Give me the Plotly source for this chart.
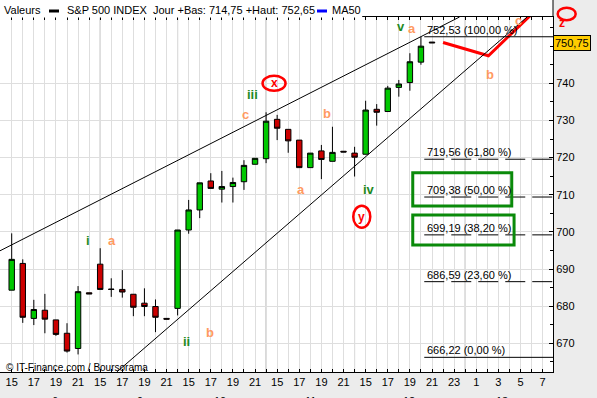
import plotly.graph_objects as go

# ---------------- data ----------------
slots = list(range(39))
opens = [684.3, 691.5, 676.7, 678.9, 676.3, 672.7, 668.6, 683.6,
         691.3, 684.6, 684.5, 683.2, 680.8, 679.9, 676.7, 679.4,
         700.5, 705.9, 713.7, 711.5, 712.2, 713.5, 718.2, 719.7,
         730.3, 727.6, 724.7, 717.3, 721.8, 719.0, 721.7, 721.2,
         720.9, 733.0, 732.4, 738.9, 740.2, 745.7, 751.1]
highs = [699.6, 692.6, 681.7, 683.3, 676.3, 675.4, 685.4, 683.6,
         695.6, 687.5, 689.7, 683.2, 684.8, 681.8, 676.7, 700.5,
         708.6, 713.2, 715.8, 716.4, 714.6, 719.3, 719.8, 732.2,
         731.5, 727.6, 724.7, 721.2, 723.4, 728.3, 721.7, 722.9,
         735.3, 734.4, 739.3, 740.9, 748.1, 752.5, 751.1]
lows = [684.3, 675.5, 674.9, 672.7, 672.0, 667.5, 667.0, 683.3,
        684.5, 682.5, 682.3, 677.3, 677.3, 673.0, 676.5, 677.5,
        699.5, 703.7, 711.7, 707.9, 707.9, 711.3, 718.2, 718.5,
        724.7, 721.3, 717.3, 717.3, 714.2, 719.0, 721.5, 714.9,
        720.9, 728.6, 732.4, 736.4, 738.0, 745.0, 750.9]
closes = [692.6, 677.0, 679.1, 676.5, 672.4, 667.9, 683.9, 683.3,
          684.5, 684.5, 683.8, 679.7, 679.9, 677.0, 676.5, 700.5,
          705.9, 713.2, 711.7, 712.2, 713.3, 717.9, 719.8, 729.8,
          727.9, 724.5, 717.3, 721.2, 719.5, 721.4, 721.5, 720.1,
          732.8, 732.2, 738.7, 739.8, 745.8, 750.0, 750.9]

hour_labels = (["15", "", "17", "", "19", "", "21", ""] * 4 +
               ["15", "", "17", "", "19", "", "21", "", "23", "", "1", "", "3", "", "5", "", "7"])
day_labels = ["6", "9", "10", "11", "12", "13"]
day_label_slots = [3.9, 11.6, 18.8, 27.0, 35.9, 44.3]
session_lines = [8, 15, 23, 31, 41]
y_ticks = [670, 680, 690, 700, 710, 720, 730, 740]

fib_values = [752.53, 719.56, 709.38, 699.19, 686.59, 666.22]
fib_pcts = ["100,00 %", "61,80 %", "50,00 %", "38,20 %", "23,60 %", "0,00 %"]
fib_solid = [True, False, False, False, False, True]

last_price = 750.75

# channel lines (slot, value)
upper_channel = [(-1.06, 694.9), (40.49, 757.85)]
lower_channel = [(9.5, 662.27), (46.6, 757.85)]
# projected path
proj_x = [39.0, 43.1, 47.95]
proj_y = [751.0, 747.4, 761.3]

green_waves = [("i", 6.9, 697.8), ("ii", 15.76, 670.4), ("iii", 21.73, 736.9),
               ("iv", 32.3, 711.3), ("v", 35.17, 755.2)]
orange_waves = [("a", 9.08, 697.8), ("b", 17.93, 672.8), ("c", 21.18, 731.5),
                ("b", 28.51, 732.0), ("a", 26.16, 711.5), ("a", 36.17, 754.8),
                ("b", 43.25, 742.5)]
circles = [("x", 23.72, 740.0, 1.04, 2.02), ("y", 31.65, 704.1, 0.77, 2.96)]
boxes = [(36.26, 45.21, 706.96, 715.93), (36.26, 45.42, 696.46, 704.54)]

XMIN, XMAX = -1.058, 48.94
YMIN, YMAX = 662.27, 757.85

GREEN_T = "#1f8a1f"
ORANGE_T = "#ff9a62"
FONT = "Arial, Liberation Sans, sans-serif"

fig = go.Figure()
fig.add_trace(go.Candlestick(
    x=slots, open=opens, high=highs, low=lows, close=closes,
    increasing=dict(fillcolor="#00c800", line=dict(color="black", width=1)),
    decreasing=dict(fillcolor="#cc0000", line=dict(color="black", width=1)),
    whiskerwidth=0, showlegend=False, hoverinfo="skip"))

fig.add_trace(go.Scatter(x=proj_x, y=proj_y, mode="lines",
                         line=dict(color="#ff0000", width=3),
                         showlegend=False, hoverinfo="skip"))

shapes = []
# header white band
shapes.append(dict(type="rect", xref="paper", yref="paper", x0=0, x1=1, y0=1, y1=1.06,
                   fillcolor="white", line=dict(width=0), layer="below"))
for s in session_lines:
    shapes.append(dict(type="line", xref="x", yref="paper", x0=s, x1=s, y0=0, y1=1,
                       line=dict(color="#a4a4a4", width=1), layer="between"))
for v, solid in zip(fib_values, fib_solid):
    shapes.append(dict(type="line", xref="x", yref="y", x0=37.3, x1=XMAX, y0=v, y1=v,
                       line=dict(color="black", width=1, dash=None if solid else "20px,7px"),
                       layer="above"))
for (a, b) in [upper_channel, lower_channel]:
    shapes.append(dict(type="line", xref="x", yref="y", x0=a[0], y0=a[1], x1=b[0], y1=b[1],
                       line=dict(color="black", width=1), layer="above"))
for (x0, x1, y0, y1) in boxes:
    shapes.append(dict(type="rect", xref="x", yref="y", x0=x0, x1=x1, y0=y0, y1=y1,
                       line=dict(color="#0a8a0a", width=3), layer="above"))
for (t, cx, cy, rx, ry) in circles:
    shapes.append(dict(type="circle", xref="x", yref="y", x0=cx - rx, x1=cx + rx,
                       y0=cy - ry, y1=cy + ry, line=dict(color="#ff0000", width=2.5), layer="above"))
# z circle (outside plot)
shapes.append(dict(type="circle", xref="paper", yref="paper", x0=1.0085, x1=1.041,
                   y0=0.991, y1=1.026, line=dict(color="#ff0000", width=2.5), layer="above"))
# hide top border line under header text
shapes.append(dict(type="rect", xref="paper", yref="paper", x0=-0.01, x1=0.655,
                   y0=1 - 0.6 / 355, y1=1.06, fillcolor="white", line=dict(width=0), layer="above"))
# right axis line extension to top
shapes.append(dict(type="line", xref="paper", yref="paper", x0=1, x1=1, y0=1, y1=1.06,
                   line=dict(color="black", width=1), layer="above"))
# header legend bars
shapes.append(dict(type="rect", xref="paper", yref="paper", x0=49 / 553, x1=59 / 553,
                   y0=(372 - 12.5) / 355, y1=(372 - 9.5) / 355, fillcolor="black",
                   line=dict(width=0), layer="above"))
shapes.append(dict(type="rect", xref="paper", yref="paper", x0=317 / 553, x1=327 / 553,
                   y0=(372 - 12.5) / 355, y1=(372 - 9.5) / 355, fillcolor="#0000ff",
                   line=dict(width=0), layer="above"))

ann = []
for v, p in zip(fib_values, fib_pcts):
    txt = f"{v:.2f}".replace(".", ",") + f" ({p})"
    ann.append(dict(x=37.35, y=v, xref="x", yref="y", text=txt, showarrow=False,
                    xanchor="left", yanchor="middle", yshift=7,
                    font=dict(family=FONT, size=11, color="black")))
for t, x, y in green_waves:
    ann.append(dict(x=x, y=y, xref="x", yref="y", text=f"<b>{t}</b>", showarrow=False,
                    font=dict(family=FONT, size=13, color=GREEN_T)))
for t, x, y in orange_waves:
    ann.append(dict(x=x, y=y, xref="x", yref="y", text=f"<b>{t}</b>", showarrow=False,
                    font=dict(family=FONT, size=13, color=ORANGE_T)))
ann.append(dict(x=524 / 553, y=(372 - 11) / 355, xref="paper", yref="paper", text="<b>c</b>",
                showarrow=False, font=dict(family=FONT, size=13, color=ORANGE_T)))
for (t, cx, cy, rx, ry) in circles:
    ann.append(dict(x=cx, y=cy, xref="x", yref="y", text=f"<b>{t}</b>", showarrow=False,
                    font=dict(family=FONT, size=12, color="#ff0000")))
ann.append(dict(x=1.0248, y=1.0085, xref="paper", yref="paper", text="<b>z</b>", showarrow=False,
                font=dict(family=FONT, size=12, color="#ff0000")))
for t, s in zip(day_labels, day_label_slots):
    ann.append(dict(x=s, y=(372 - 393) / 355, xref="x", yref="paper", text=t, showarrow=False,
                    yanchor="top", font=dict(family=FONT, size=11, color="black")))
ann.append(dict(x=1, y=last_price, xref="paper", yref="y", text="750,75", showarrow=False,
                xanchor="left", yanchor="middle", bgcolor="#ffcc00", bordercolor="black",
                borderwidth=1, borderpad=1, font=dict(family=FONT, size=11, color="black")))
ann.append(dict(x=4 / 553, y=(372 - 367) / 355, xref="paper", yref="paper",
                text="© IT-Finance.com / Boursorama", showarrow=False, xanchor="left",
                yanchor="middle", font=dict(family=FONT, size=10, color="black")))
hy = (372 - 10) / 355
for txt, px in [("Valeurs", 2), ("S&P 500 INDEX", 65), ("Jour +Bas: 714,75 +Haut: 752,65", 151),
                ("MA50", 330)]:
    ann.append(dict(x=px / 553, y=hy, xref="paper", yref="paper", text=txt, showarrow=False,
                    xanchor="left", yanchor="middle", font=dict(family=FONT, size=11, color="black")))

fig.update_layout(
    width=597, height=398, margin=dict(l=0, r=44, t=17, b=26),
    paper_bgcolor="#ececec", plot_bgcolor="white",
    shapes=shapes, annotations=ann, showlegend=False,
    xaxis=dict(range=[XMIN, XMAX], tickmode="array", tickvals=list(range(len(hour_labels))),
               ticktext=hour_labels, ticks="inside", ticklen=3, tickcolor="black",
               showline=True, linecolor="black", mirror="ticks", showgrid=True,
               gridcolor="#dedede", zeroline=False, rangeslider=dict(visible=False),
               tickfont=dict(family=FONT, size=11, color="black"), fixedrange=True),
    yaxis=dict(range=[YMIN, YMAX], side="right", tickmode="array", tickvals=y_ticks,
               ticktext=[str(v) for v in y_ticks], ticks="inside",
               ticklen=4, tickcolor="black", showline=True, linecolor="black",
               showgrid=True, gridcolor="#dedede", zeroline=False,
               minor=dict(dtick=5, tick0=0, ticks="inside", ticklen=3, tickcolor="black",
                          showgrid=False),
               tickfont=dict(family=FONT, size=11, color="black"), fixedrange=True),
)

fig.write_html("out.html")
